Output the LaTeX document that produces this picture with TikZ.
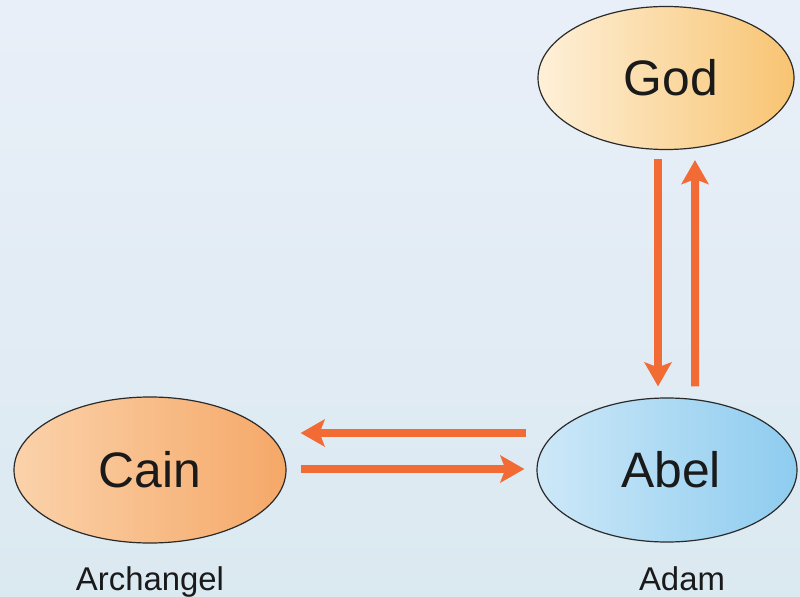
\documentclass[tikz,border=0pt]{standalone}
\usepackage{fontspec}
\setmainfont{Liberation Sans}
\usetikzlibrary{shapes.geometric,arrows.meta}
\definecolor{bgtop}{HTML}{E9EFF8}
\definecolor{bgbot}{HTML}{DBE9F1}
\definecolor{arrowc}{HTML}{F26B35}
\definecolor{edgec}{HTML}{2A2A2A}
\definecolor{godA}{HTML}{FEF0D8}
\definecolor{godB}{HTML}{F8C472}
\definecolor{cainA}{HTML}{FBD2AA}
\definecolor{cainB}{HTML}{F5A868}
\definecolor{abelA}{HTML}{CDE8F8}
\definecolor{abelB}{HTML}{8ECCEF}
\definecolor{txt}{HTML}{1A1A1A}
\tikzset{
  oval/.style={ellipse, draw=edgec, line width=1.2bp, inner sep=0pt,
    text=txt, font=\fontsize{50}{60}\selectfont},
  flow/.style={draw=arrowc, line width=8bp,
    -{Stealth[length=24bp,width=27bp,inset=5bp]}},
  sublabel/.style={anchor=base, text=txt, font=\fontsize{33}{40}\selectfont, inner sep=0pt}
}
\begin{document}
\begin{tikzpicture}[x=1bp,y=-1bp]
\useasboundingbox (0,0) rectangle (800,597);
\shade[top color=bgtop, bottom color=bgbot] (0,0) rectangle (800,597);

\node[oval, minimum width=256bp, minimum height=143bp,
  left color=godA, right color=godB] (God) at (666,78) {\hspace*{10bp}God};
\node[oval, minimum width=272bp, minimum height=146bp,
  left color=cainA, right color=cainB] (Cain) at (150,470) {Cain};
\node[oval, minimum width=260bp, minimum height=144bp,
  left color=abelA, right color=abelB] (Abel) at (667,470) {\hspace*{8bp}Abel};

\node[sublabel] (Arch) at (150,590) {Archangel};
\node[sublabel] (Adam) at (682,590) {Adam};

% vertical arrows
\draw[flow] ([xshift=-8bp,yshift=-9bp]God.south) -- ([xshift=-9bp,yshift=11bp]Abel.north);
\draw[flow] ([xshift=28bp,yshift=11bp]Abel.north) -- ([xshift=29bp,yshift=-10bp]God.south);
% horizontal arrows
\draw[flow] ([xshift=-10bp,yshift=37bp]Abel.west) -- ([xshift=14bp,yshift=37bp]Cain.east);
\draw[flow] ([xshift=14bp,yshift=1bp]Cain.east) -- ([xshift=-12bp,yshift=1bp]Abel.west);
\end{tikzpicture}
\end{document}
